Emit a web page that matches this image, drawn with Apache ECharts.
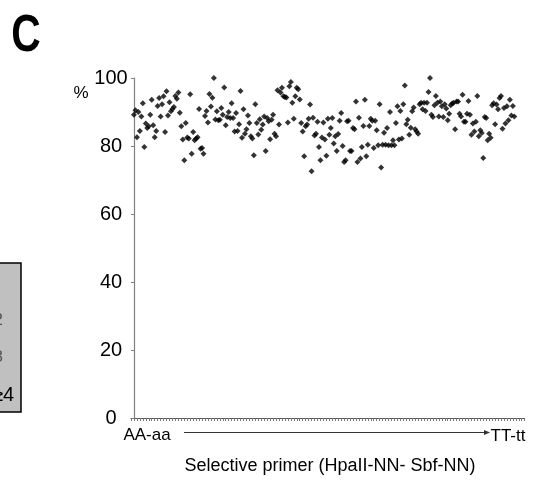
<!DOCTYPE html>
<html>
<head>
<meta charset="utf-8">
<script src="https://cdn.jsdelivr.net/npm/echarts@6/dist/echarts.min.js"></script>
<style>html,body{margin:0;padding:0;background:#fff}#c{width:539px;height:482px}</style>
</head>
<body>
<div id="c"></div>
<script>
// Percent values, ordered from the first selective primer (AA-aa) to the last (TT-tt)
const values = [
 89.2, 90.5, 82.6, 90, 84.4, 88.7, 92.6, 79.7, 86.6, 85.3, 85.8, 89.2, 93.6, 86.1, 82.6, 84.4, 91.8, 94.1, 88.7, 92.3, 94.6, 84.1, 96.1, 89, 92.9, 90.2, 90.9, 91.5, 94.7, 93.9, 95.7, 89.8, 85.8, 81.9, 75.8, 86.8, 82.5, 82.2, 95.2, 77.7, 84.1,
 81.7, 82.2, 82.6, 90.9, 79.2, 79.4, 77.7, 88.8, 90.3, 86.9, 95.3, 91.6, 94.2, 100, 87.8, 90.2, 87.6, 87.7, 91.2, 89.2, 97.2, 86.1, 88.5, 90, 88.2, 92.6, 88.2, 84.3, 89.7, 84.4, 86.4, 96.2, 82.4, 90.8, 83.6, 84.9, 89, 86.8, 82.9, 82.2, 77.3, 92.3, 86.8,
 83.4, 87.9, 84.8, 86.3, 88.7, 78.5, 88.2, 87.3, 82, 87.7, 89.2, 83.6, 82.9, 96.4, 86.3, 95.7, 97.1, 94.6, 94.4, 94.3, 86.9, 97.6, 98.8, 92.7, 88, 94.6, 97.1, 96.7, 93.7, 86.8, 84.3, 77, 85.8, 86.3, 88, 92.2, 72.6, 88.3, 83.1, 83.6,
 87.1, 79.7, 75.8, 82.5, 86.9, 81.9, 77.1, 88, 83.3, 85.3, 88.2, 80.7, 82.9, 78.5, 83.5, 87.4, 89.7, 80, 75.3, 75.8, 87.3, 87.4, 78.5, 78.5, 85.3, 84.9, 93.1, 75.3, 88.3, 76.3, 79.7, 85.9, 93.6, 77, 80.4, 85.9, 88, 87.4, 79.4, 87.4, 84.6,
 80.2, 92.3, 73.7, 80.4, 83.9, 80.4, 85.3, 80.2, 90, 80.2, 81.7, 80.2, 86.8, 91.7, 81.9, 90.3, 82.2, 92.3, 97.8, 86.4, 87.7, 83.3, 85.4, 90.2, 91.3, 84.9, 84.3, 83.6, 92.3, 92.7, 90.8, 92.7, 90.3, 92.7, 95.9, 100, 89.2, 88.5, 92, 94.7, 92.7, 88.7, 93.1, 91.7,
 88.5, 92.3, 91, 87.6, 89.5, 92, 92.5, 92.7, 84.9, 93.1, 93.1, 89.5, 88.7, 95.1, 87.1, 87.1, 89.5, 93.2, 89.2, 83.3, 86.6, 84.3, 87.1, 94.7, 82.9, 84.6, 83.8, 76.5, 88.5, 88.2, 81.7, 83.6, 82.4, 92, 92.6, 86.4, 92.2, 90.8, 94.1, 94.7, 85.1, 91.2,
 86.6, 91.7, 87.6, 93.6, 89, 91.8, 88.7
];
const yTicks = [0, 20, 40, 60, 80, 100];
const firstLabel = 'AA-aa';
const lastLabel = 'TT-tt';
const xTitle = 'Selective primer (HpaII-NN- Sbf-NN)';
const boxLabels = ['2', '3', '≥4'];

const points = values.map((v, i) => [i, v]);
const chart = echarts.init(document.getElementById('c'), null, {renderer: 'canvas'});
const FONT = 'Liberation Sans, Arial, sans-serif';
chart.setOption({
  animation: false,
  backgroundColor: '#fff',
  grid: {left: 131, right: 14.3, top: 78, bottom: 64, containLabel: false},
  xAxis: {
    type: 'value', min: -2, max: 264, interval: 2,
    axisLine: {show: true, lineStyle: {color: '#555', width: 1}},
    axisTick: {show: true, length: 3, lineStyle: {color: '#777', width: 1}},
    axisLabel: {show: false},
    splitLine: {show: false}
  },
  yAxis: {
    type: 'value', min: yTicks[0], max: yTicks[yTicks.length - 1], interval: 20,
    axisLine: {show: true, lineStyle: {color: '#808080', width: 1.2}},
    axisTick: {show: true, length: 3, lineStyle: {color: '#808080'}},
    axisLabel: {color: '#000', fontSize: 20, fontFamily: FONT, align: 'center', margin: 20, padding: [5, 0, 0, 0]},
    splitLine: {show: false}
  },
  graphic: [
    {type: 'text', x: 26, y: 37, scaleX: 0.8, style: {text: 'C', font: 'bold 51px ' + FONT, fill: '#000', align: 'center', verticalAlign: 'middle'}},
    {type: 'text', x: 81, y: 93, style: {text: '%', font: '17px ' + FONT, fill: '#000', align: 'center', verticalAlign: 'middle'}},
    {type: 'text', x: 147, y: 435, style: {text: firstLabel, font: '17px ' + FONT, fill: '#000', align: 'center', verticalAlign: 'middle'}},
    {type: 'text', x: 508, y: 436, style: {text: lastLabel, font: '17px ' + FONT, fill: '#000', align: 'center', verticalAlign: 'middle'}},
    {type: 'text', x: 330, y: 466, style: {text: xTitle, font: '18px ' + FONT, fill: '#000', align: 'center', verticalAlign: 'middle'}},
    {type: 'line', shape: {x1: 184, y1: 432.5, x2: 486, y2: 432.5}, style: {stroke: '#333', lineWidth: 1}},
    {type: 'polygon', shape: {points: [[490, 432.5], [484, 430], [484, 435]]}, style: {fill: '#333'}},
    {type: 'rect', shape: {x: -2, y: 263, width: 23, height: 149}, style: {fill: '#c0c0c0', stroke: '#000', lineWidth: 1.5}},
    {type: 'text', x: 3, y: 320, style: {text: boxLabels[0], font: '17px ' + FONT, fill: '#555', align: 'right', verticalAlign: 'middle'}},
    {type: 'text', x: 3, y: 357, style: {text: boxLabels[1], font: '17px ' + FONT, fill: '#555', align: 'right', verticalAlign: 'middle'}},
    {type: 'text', x: 14, y: 395, style: {text: boxLabels[2], font: '20px ' + FONT, fill: '#000', align: 'right', verticalAlign: 'middle'}}
  ],
  series: [{
    type: 'scatter', data: points, symbol: 'diamond', symbolSize: 6,
    itemStyle: {color: '#000'}
  }]
});
</script>
</body>
</html>
